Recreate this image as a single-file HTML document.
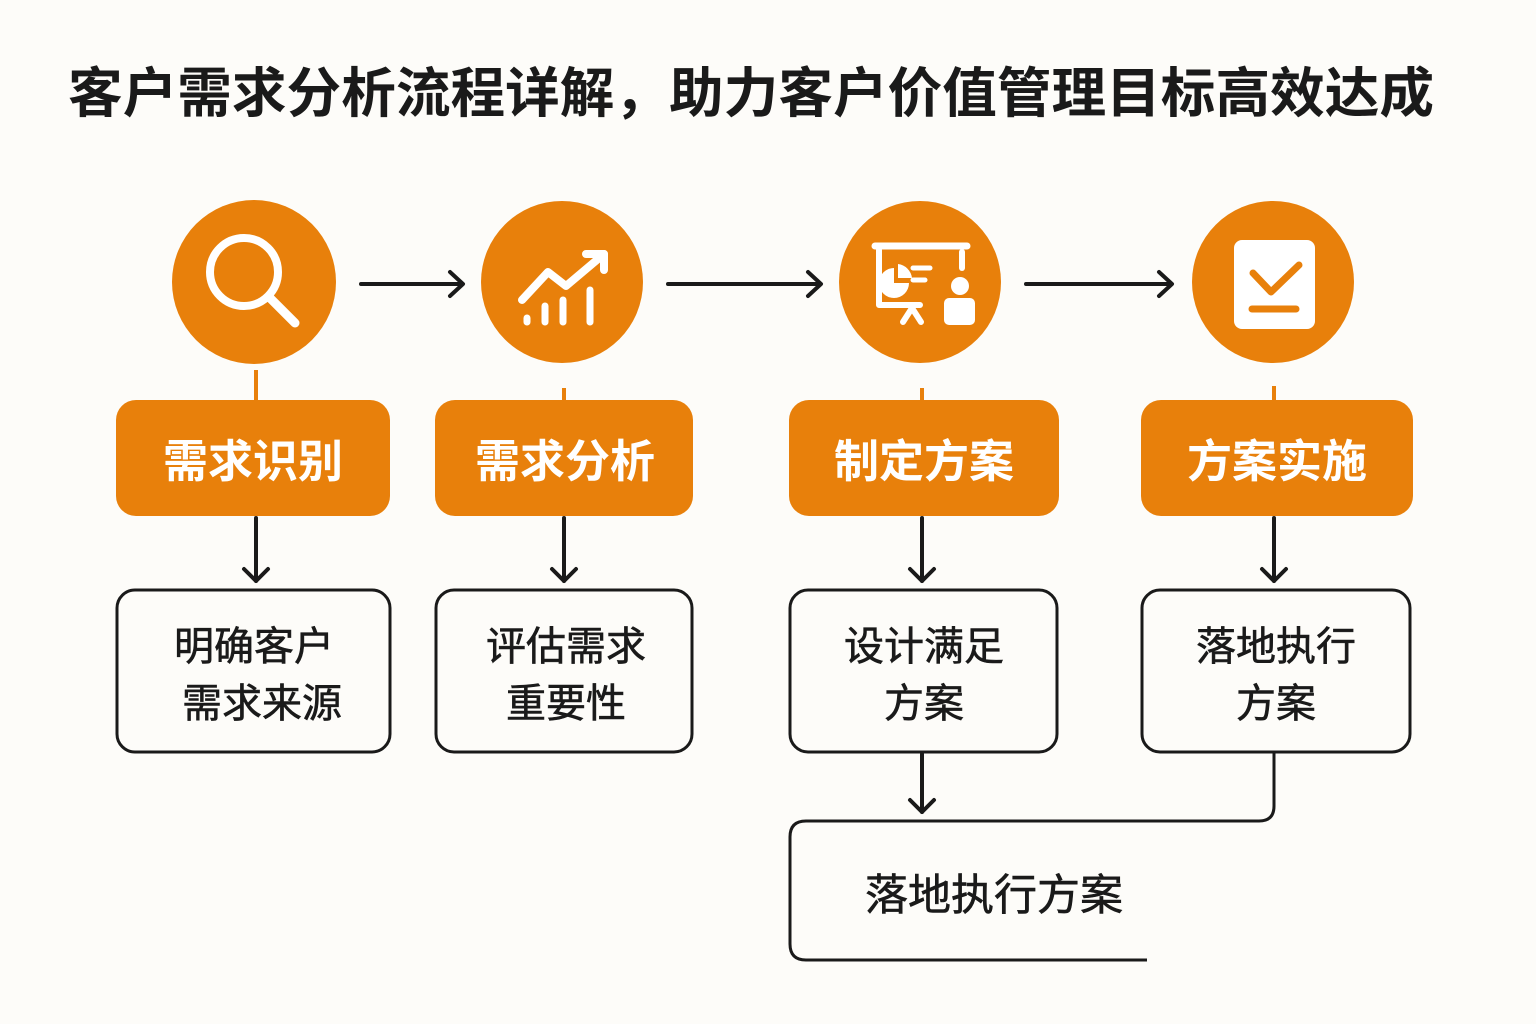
<!DOCTYPE html>
<html><head><meta charset="utf-8"><style>
html,body{margin:0;padding:0;background:#fdfcf9;}
svg{display:block;}
text{font-family:"Liberation Sans","Noto Sans CJK SC",sans-serif;}
</style></head><body>
<svg width="1536" height="1024" viewBox="0 0 1536 1024" xmlns="http://www.w3.org/2000/svg">
<rect width="1536" height="1024" fill="#fdfcf9"/>
<text x="68" y="112" font-size="54" font-weight="bold" fill="#1a1a1a" textLength="1366" lengthAdjust="spacingAndGlyphs">客户需求分析流程详解，助力客户价值管理目标高效达成</text>

<g fill="#e8800b">
<circle cx="254" cy="282" r="82"/>
<circle cx="562" cy="282" r="81"/>
<circle cx="920" cy="282" r="81"/>
<circle cx="1273" cy="282" r="81"/>
<rect x="116" y="400" width="274" height="116" rx="20"/>
<rect x="435" y="400" width="258" height="116" rx="20"/>
<rect x="789" y="400" width="270" height="116" rx="20"/>
<rect x="1141" y="400" width="272" height="116" rx="20"/>
<rect x="254" y="370" width="4" height="32"/>
<rect x="562" y="388" width="4" height="14"/>
<rect x="920" y="388" width="4" height="14"/>
<rect x="1272" y="386" width="4" height="16"/>
</g>

<g stroke="#fff" fill="none" stroke-linecap="round" stroke-linejoin="round">
<circle cx="244" cy="272" r="34" stroke-width="8"/>
<line x1="270" y1="298" x2="295" y2="323" stroke-width="9"/>
<polyline points="522,300 548,272 566,286 604,254" stroke-width="8"/>
<polyline points="586,254 604,254 604,270" stroke-width="8"/>
<line x1="527" y1="318" x2="527" y2="322" stroke-width="7"/>
<line x1="545" y1="306" x2="545" y2="322" stroke-width="7"/>
<line x1="563" y1="300" x2="563" y2="322" stroke-width="7"/>
<line x1="590" y1="290" x2="590" y2="322" stroke-width="7"/>
<line x1="875" y1="246" x2="967" y2="246" stroke-width="7"/>
<polyline points="879,250 879,305 920,305" stroke-width="6"/>
<line x1="962" y1="252" x2="962" y2="268" stroke-width="6"/>
<line x1="912" y1="308" x2="903" y2="322" stroke-width="6"/>
<line x1="912" y1="308" x2="921" y2="322" stroke-width="6"/>
<line x1="913" y1="268" x2="930" y2="268" stroke-width="5"/>
<line x1="913" y1="280" x2="925" y2="280" stroke-width="5"/>
</g>
<g fill="#fff">
<path d="M894,268 L894,283 L909,283 A15,15 0 1 1 894,268 Z"/>
<path d="M898,264 A16,16 0 0 1 912,278 L898,278 Z"/>
<circle cx="960" cy="286" r="9"/>
<rect x="944" y="298" width="31" height="27" rx="5"/>
<rect x="1234" y="240" width="81" height="89" rx="8"/>
</g>
<g stroke="#e8800b" fill="none" stroke-width="7" stroke-linecap="round" stroke-linejoin="round">
<polyline points="1253,273 1271,292 1299,265"/>
<line x1="1252" y1="309" x2="1296" y2="309"/>
</g>

<g font-size="45" font-weight="bold" fill="#fff" text-anchor="middle">
<text x="253" y="477">需求识别</text>
<text x="565" y="477">需求分析</text>
<text x="924" y="477">制定方案</text>
<text x="1277" y="477">方案实施</text>
</g>

<g stroke="#1a1a1a" stroke-width="4" fill="none" stroke-linecap="round" stroke-linejoin="round">
<line x1="361" y1="284" x2="462" y2="284"/><polyline points="450,272 463,284 450,296"/>
<line x1="668" y1="284" x2="820" y2="284"/><polyline points="808,272 821,284 808,296"/>
<line x1="1026" y1="284" x2="1171" y2="284"/><polyline points="1159,272 1172,284 1159,296"/>
<line x1="256" y1="518" x2="256" y2="581"/><polyline points="244,569 256,581 268,569"/>
<line x1="564" y1="518" x2="564" y2="581"/><polyline points="552,569 564,581 576,569"/>
<line x1="922" y1="518" x2="922" y2="581"/><polyline points="910,569 922,581 934,569"/>
<line x1="1274" y1="518" x2="1274" y2="581"/><polyline points="1262,569 1274,581 1286,569"/>
<line x1="922" y1="754" x2="922" y2="812"/><polyline points="910,800 922,812 934,800"/>
</g>
<g stroke="#1a1a1a" stroke-width="3" fill="none">
<rect x="117" y="590" width="273" height="162" rx="18"/>
<rect x="436" y="590" width="256" height="162" rx="18"/>
<rect x="790" y="590" width="267" height="162" rx="18"/>
<rect x="1142" y="590" width="268" height="162" rx="18"/>
<path d="M1274,752 L1274,806 Q1274,821 1259,821 L806,821 Q790,821 790,837 L790,944 Q790,960 806,960 L1147,960"/>
</g>
<g font-size="40" fill="#1a1a1a" text-anchor="middle" stroke="#1a1a1a" stroke-width="0.6">
<text x="254" y="660">明确客户</text>
<text x="262" y="717">需求来源</text>
<text x="566" y="660">评估需求</text>
<text x="566" y="717">重要性</text>
<text x="924" y="660">设计满足</text>
<text x="924" y="717">方案</text>
<text x="1276" y="660">落地执行</text>
<text x="1276" y="717">方案</text>
</g>
<text x="994" y="910" font-size="43" fill="#1a1a1a" text-anchor="middle" stroke="#1a1a1a" stroke-width="0.6">落地执行方案</text>
</svg>
</body></html>
